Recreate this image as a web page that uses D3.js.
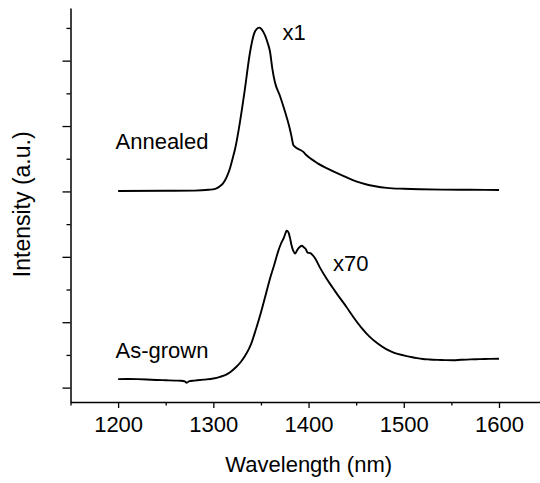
<!DOCTYPE html>
<html>
<head>
<meta charset="utf-8">
<script src="https://cdn.jsdelivr.net/npm/d3@7"></script>
<style>
  html, body { margin: 0; padding: 0; background: #fff; }
  svg { display: block; font-family: "Liberation Sans", Arial, Helvetica, sans-serif; }
</style>
</head>
<body>
<svg id="chart" width="540" height="483"></svg>
<script>
// Photoluminescence spectra (arbitrary units, curves vertically offset)
const asGrownWl = [1200, 1210, 1220, 1230, 1240, 1250, 1260, 1266, 1270, 1272, 1275, 1280, 1290, 1300,
  1307, 1313, 1318, 1324, 1329, 1333, 1337, 1340, 1345, 1350, 1355, 1360, 1364, 1368, 1371, 1374,
  1376, 1377, 1379, 1380.5, 1382, 1384, 1386, 1388, 1390, 1393, 1395, 1397, 1399, 1402, 1404, 1407,
  1412, 1419, 1425, 1430, 1440, 1447, 1455, 1464, 1473, 1482, 1490, 1500, 1507, 1514, 1520, 1527,
  1535, 1543, 1552, 1560, 1570, 1580, 1590, 1600];
const asGrownI = [0.26, 0.265, 0.26, 0.25, 0.235, 0.225, 0.215, 0.21, 0.19, 0.15, 0.2, 0.215, 0.245, 0.28,
  0.33, 0.39, 0.48, 0.63, 0.79, 0.96, 1.16, 1.36, 1.81, 2.30, 2.84, 3.38, 3.76, 4.16, 4.40, 4.58,
  4.74, 4.80, 4.74, 4.58, 4.37, 4.18, 4.10, 4.20, 4.28, 4.34, 4.29, 4.24, 4.13, 4.11, 4.06, 3.95,
  3.67, 3.33, 3.07, 2.86, 2.46, 2.16, 1.85, 1.56, 1.34, 1.17, 1.065, 0.985, 0.94, 0.90, 0.875, 0.86,
  0.848, 0.84, 0.835, 0.85, 0.865, 0.87, 0.88, 0.885];

const annealedWl = [1200, 1250, 1280, 1295, 1302, 1306, 1310, 1314, 1317.5, 1320, 1323, 1328, 1333,
  1338.5, 1343, 1346, 1348.3, 1351, 1354.3, 1357, 1359.5, 1362, 1364.5, 1370, 1375.3, 1379.8, 1382,
  1384, 1386, 1389, 1392, 1394.5, 1397, 1400, 1405, 1410, 1420, 1430, 1440, 1450, 1460, 1470, 1482,
  1500, 1517, 1540, 1570, 1600];
const annealedI = [6.015, 6.02, 6.025, 6.05, 6.08, 6.14, 6.24, 6.44, 6.71, 6.98, 7.32, 8.13, 9.10,
  10.25, 10.84, 10.98, 11.01, 10.95, 10.77, 10.55, 10.28, 9.75, 9.36, 8.92, 8.44, 7.98, 7.70,
  7.42, 7.36, 7.30, 7.26, 7.21, 7.13, 7.05, 6.95, 6.85, 6.70, 6.56, 6.43, 6.31, 6.22, 6.16, 6.11,
  6.08, 6.065, 6.055, 6.05, 6.045];

const xMajorTicks = [1200, 1300, 1400, 1500, 1600];
const xMinorTicks = [1150, 1250, 1350, 1450, 1550, 1650];
const yMajorTicks = [0, 2, 4, 6, 8, 10];
const yMinorTicks = [1, 3, 5, 7, 9, 11];

const svg = d3.select("#chart");

const x = d3.scaleLinear().domain([1150, 1650]).range([70.5, 546.6]);
const y = d3.scaleLinear().domain([-0.44, 11.61]).range([402, 8]);

const fontSize = 22;

// Axes: major ticks with labels on x, unlabeled on y; short minor ticks between
const xMajor = svg.append("g").attr("transform", `translate(0,${y.range()[0]})`)
  .call(d3.axisBottom(x).tickValues(xMajorTicks).tickFormat(d3.format("d"))
    .tickSize(6).tickSizeOuter(0).tickPadding(8.5));
const xMinor = svg.append("g").attr("transform", `translate(0,${y.range()[0]})`)
  .call(d3.axisBottom(x).tickValues(xMinorTicks).tickFormat("").tickSize(3.5).tickSizeOuter(0));
xMinor.select(".domain").remove();

const yMajor = svg.append("g").attr("transform", `translate(${x.range()[0]},0)`)
  .call(d3.axisLeft(y).tickValues(yMajorTicks).tickFormat("").tickSize(8).tickSizeOuter(0));
const yMinor = svg.append("g").attr("transform", `translate(${x.range()[0]},0)`)
  .call(d3.axisLeft(y).tickValues(yMinorTicks).tickFormat("").tickSize(4).tickSizeOuter(0));
yMinor.select(".domain").remove();

svg.selectAll(".domain").attr("stroke", "#000").attr("stroke-width", 1.5);
svg.selectAll(".tick line").attr("stroke", "#000").attr("stroke-width", 1.3);
xMajor.selectAll(".tick text")
  .attr("font-size", fontSize).attr("fill", "#000")
  .attr("font-family", "Liberation Sans, Arial, sans-serif");

// Spectra
const line = d3.line().x(d => x(d[0])).y(d => y(d[1])).curve(d3.curveMonotoneX);

svg.append("path")
  .datum(d3.zip(asGrownWl, asGrownI))
  .attr("d", line).attr("fill", "none").attr("stroke", "#000")
  .attr("stroke-width", 1.9).attr("stroke-linejoin", "round");

svg.append("path")
  .datum(d3.zip(annealedWl, annealedI))
  .attr("d", line).attr("fill", "none").attr("stroke", "#000")
  .attr("stroke-width", 1.9).attr("stroke-linejoin", "round");

// Annotations
const note = (txt, px, py) => svg.append("text")
  .attr("x", px).attr("y", py).attr("font-size", fontSize).attr("fill", "#000").text(txt);

note("Annealed", 115.5, 148.5);
note("As-grown", 115.5, 357.5);
note("x1", 282.5, 40);
note("x70", 333, 270.5);

// Axis titles
svg.append("text")
  .attr("x", 308.7).attr("y", 471.5)
  .attr("text-anchor", "middle").attr("font-size", fontSize).attr("fill", "#000")
  .text("Wavelength (nm)");

svg.append("text")
  .attr("transform", "translate(30,204.3) rotate(-90)")
  .attr("text-anchor", "middle").attr("font-size", 23).attr("fill", "#000")
  .text("Intensity (a.u.)");
</script>
</body>
</html>
